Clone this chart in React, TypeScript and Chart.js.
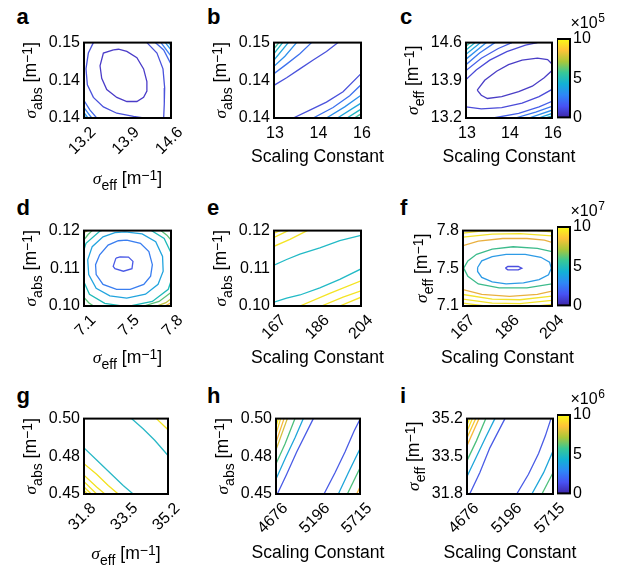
import React, { useEffect, useRef } from 'react';
import { Chart, registerables } from 'chart.js';

Chart.register(...registerables);

const SANS = "'Liberation Sans', Arial, Helvetica, sans-serif";
const SERIF = "'Liberation Serif', 'Times New Roman', serif";

type XY = [number, number];

// ---------------- Panel a (sigma_eff vs sigma_abs) ----------------
const aXTicks = [13.2, 13.9, 14.6];
const aXLabels = ['13.2', '13.9', '14.6'];
const aYTicks = [0.135, 0.1425, 0.15];
const aYLabels = ['0.14', '0.14', '0.15'];
const aL1: XY[] = [[13.674,0.14855],[13.512,0.14792],[13.458,0.1454],[13.485,0.14288],[13.566,0.14067],[13.728,0.1391],[13.889,0.13828],[14.051,0.13828],[14.159,0.1391],[14.212,0.14036],[14.212,0.14225],[14.159,0.14477],[14.051,0.14698],[13.889,0.14824],[13.755,0.14868],[13.674,0.14855]];
const aL2a: XY[] = [[13.351,0.15],[13.27,0.14792],[13.232,0.14477],[13.254,0.14162],[13.351,0.1391],[13.512,0.13721],[13.728,0.13595],[13.997,0.13532],[14.159,0.135]];
const aL2b: XY[] = [[14.212,0.15],[14.374,0.14792],[14.471,0.14477],[14.498,0.14099],[14.492,0.13784],[14.482,0.135]];
const aL3a: XY[] = [[14.347,0.15],[14.482,0.14855],[14.6,0.14572]];
const aL4a: XY[] = [[14.439,0.15],[14.6,0.14729]];
const aL5a: XY[] = [[14.509,0.15],[14.6,0.14855]];
const aL6a: XY[] = [[14.562,0.15],[14.6,0.14937]];
const aL3b: XY[] = [[13.2,0.13847],[13.297,0.13658],[13.405,0.135]];
const aL4b: XY[] = [[13.2,0.13708],[13.324,0.135]];
const aL5b: XY[] = [[13.2,0.13607],[13.265,0.135]];
const aL6b: XY[] = [[13.2,0.13544],[13.232,0.135]];

// ---------------- Panel b (scaling constant vs sigma_abs) ----------------
const bXTicks = [13.2, 14.4, 15.6];
const bXLabels = ['13', '14', '16'];
const bYTicks = [0.135, 0.1425, 0.15];
const bYLabels = ['0.14', '0.14', '0.15'];
const bL1a: XY[] = [[13.2,0.14149],[13.548,0.143],[13.914,0.14477],[14.281,0.14653],[14.647,0.14824],[14.968,0.15]];
const bL2a: XY[] = [[13.2,0.14382],[13.548,0.14572],[13.914,0.1478],[14.235,0.15]];
const bL3a: XY[] = [[13.2,0.14527],[13.502,0.14729],[13.823,0.15]];
const bL4a: XY[] = [[13.2,0.14653],[13.594,0.15]];
const bL5a: XY[] = [[13.2,0.1478],[13.438,0.15]];
const bL6a: XY[] = [[13.2,0.1488],[13.337,0.15]];
const bL1b: XY[] = [[13.731,0.135],[14.189,0.13658],[14.647,0.13815],[15.105,0.14023],[15.6,0.14382]];
const bL2b: XY[] = [[14.281,0.135],[14.83,0.13708],[15.288,0.13941],[15.6,0.14162]];
const bL3b: XY[] = [[14.647,0.135],[15.151,0.13721],[15.6,0.13954]];
const bL4b: XY[] = [[14.95,0.135],[15.6,0.13796]];
const bL5b: XY[] = [[15.215,0.135],[15.6,0.13676]];
const bL6b: XY[] = [[15.417,0.135],[15.6,0.13582]];

// ---------------- Panel c (scaling constant vs sigma_eff) ----------------
const cXTicks = [13.2, 14.4, 15.6];
const cXLabels = ['13', '14', '16'];
const cYTicks = [13.2, 13.9, 14.6];
const cYLabels = ['13.2', '13.9', '14.6'];
const cL1: XY[] = [[13.513,13.719],[13.722,13.9],[14.054,14.069],[14.386,14.19],[14.765,14.274],[15.192,14.31],[15.477,14.286],[15.6,14.202],[15.6,14.081],[15.382,13.948],[15.05,13.791],[14.67,13.689],[14.196,13.598],[13.798,13.562],[13.627,13.622],[13.513,13.719]];
const cL2a: XY[] = [[13.2,13.912],[13.485,14.093],[13.864,14.274],[14.338,14.431],[14.86,14.552],[15.192,14.6]];
const cL2b: XY[] = [[13.2,13.405],[13.627,13.369],[14.196,13.393],[14.765,13.478],[15.239,13.598],[15.6,13.731]];
const cL3a: XY[] = [[13.2,14.081],[13.627,14.31],[14.101,14.491],[14.481,14.6]];
const cL3b: XY[] = [[13.959,13.2],[14.67,13.284],[15.239,13.405],[15.6,13.508]];
const cL4a: XY[] = [[13.2,14.19],[13.579,14.407],[14.006,14.6]];
const cL4b: XY[] = [[14.575,13.2],[15.145,13.309],[15.6,13.417]];
const cL5a: XY[] = [[13.2,14.292],[13.769,14.6]];
const cL5b: XY[] = [[14.955,13.2],[15.6,13.345]];
const cL6a: XY[] = [[13.2,14.383],[13.608,14.6]];
const cL6b: XY[] = [[15.221,13.2],[15.6,13.284]];
const cL7a: XY[] = [[13.2,14.461],[13.456,14.6]];
const cL7b: XY[] = [[15.41,13.2],[15.6,13.236]];
const cL8a: XY[] = [[13.2,14.533],[13.323,14.6]];

// ---------------- Panel d ----------------
const dXTicks = [7.1, 7.45, 7.8];
const dXLabels = ['7.1', '7.5', '7.8'];
const dYTicks = [0.1, 0.11, 0.12];
const dYLabels = ['0.10', '0.11', '0.12'];
const dL1: XY[] = [[7.357,0.1127],[7.39,0.11304],[7.458,0.11296],[7.494,0.11183],[7.486,0.10991],[7.417,0.10922],[7.349,0.10991],[7.335,0.11052],[7.357,0.1127]];
const dL2: XY[] = [[7.444,0.11748],[7.554,0.11661],[7.622,0.11444],[7.65,0.11096],[7.636,0.10791],[7.581,0.10574],[7.472,0.10443],[7.362,0.10443],[7.253,0.10574],[7.198,0.10835],[7.193,0.11096],[7.226,0.11357],[7.294,0.11617],[7.376,0.11731],[7.444,0.11748]];
const dL3: XY[] = [[7.431,0.11965],[7.568,0.11913],[7.677,0.11704],[7.732,0.11313],[7.737,0.10922],[7.696,0.10574],[7.595,0.10313],[7.444,0.10209],[7.308,0.1027],[7.198,0.1047],[7.138,0.10835],[7.13,0.11226],[7.166,0.11574],[7.253,0.11835],[7.349,0.11948],[7.431,0.11965]];
const dL4: XY[] = [[7.431,0.12122],[7.609,0.1207],[7.745,0.11791],[7.814,0.11313],[7.822,0.10878],[7.778,0.10443],[7.65,0.10122],[7.444,0.09983],[7.267,0.1007],[7.144,0.10313],[7.084,0.10748],[7.075,0.11226],[7.116,0.11661],[7.226,0.11983],[7.335,0.12096],[7.431,0.12122]];
const dL5a: XY[] = [[7.1,0.11757],[7.133,0.11896],[7.166,0.12]];
const dL5b: XY[] = [[7.718,0.12],[7.767,0.11878],[7.8,0.11748]];
const dL5c: XY[] = [[7.1,0.10226],[7.138,0.10087],[7.177,0.1]];
const dL5d: XY[] = [[7.581,0.1],[7.704,0.10122],[7.8,0.10357]];
const dL6a: XY[] = [[7.685,0.1],[7.759,0.10087],[7.8,0.10191]];
const dL6b: XY[] = [[7.1,0.11948],[7.127,0.12]];
const dL7a: XY[] = [[7.751,0.1],[7.8,0.10087]];

// ---------------- Panel e ----------------
const eXTicks = [167, 185.5, 204];
const eXLabels = ['167', '186', '204'];
const eYTicks = [0.1, 0.11, 0.12];
const eYLabels = ['0.10', '0.11', '0.12'];
const eC1: XY[] = [[167,0.11083],[172.37,0.11233],[178.02,0.11375],[186.49,0.11542],[194.96,0.11733],[204,0.11875]];
const eC2: XY[] = [[167,0.101],[172.37,0.10208],[178.02,0.10292],[186.49,0.10483],[194.96,0.10708],[204,0.10983]];
const eY1: XY[] = [[167,0.11583],[173.78,0.11767],[181.12,0.12]];
const eY2: XY[] = [[167,0.11817],[173.07,0.12]];
const eY3: XY[] = [[167,0.11933],[169.54,0.12]];
const eY4: XY[] = [[178.02,0.1],[190.72,0.10333],[204,0.10667]];
const eY5: XY[] = [[187.19,0.1],[196.37,0.10233],[204,0.104]];
const eY6: XY[] = [[194.96,0.1],[204,0.10233]];

// ---------------- Panel f ----------------
const fXTicks = [167, 185.5, 204];
const fXLabels = ['167', '186', '204'];
const fYTicks = [7.1, 7.45, 7.8];
const fYLabels = ['7.1', '7.5', '7.8'];
const fL1: XY[] = [[184.63,7.4515],[185.64,7.4668],[189.98,7.4668],[191.43,7.4515],[189.98,7.4362],[185.64,7.4362],[184.63,7.4515]];
const fL2: XY[] = [[173.07,7.4576],[174.8,7.5188],[179.14,7.5585],[184.92,7.5799],[192.87,7.5799],[199.37,7.5524],[202.99,7.5066],[203.71,7.4515],[202.55,7.3904],[198.65,7.3445],[192.15,7.314],[184.92,7.3048],[179.14,7.3231],[174.8,7.3659],[173.07,7.421],[173.07,7.4576]];
const fL3: XY[] = [[204,7.6044],[197.93,7.6349],[187.81,7.6502],[179.14,7.6288],[172.64,7.5799],[169.02,7.5188],[167.29,7.4515],[169.02,7.3751],[173.36,7.3048],[182.03,7.2681],[193.59,7.2681],[204,7.3048]];
const fL4a: XY[] = [[167,7.6594],[173.36,7.7022],[183.48,7.7266],[193.59,7.7266],[200.82,7.7114],[204,7.69]];
const fL4b: XY[] = [[167,7.2528],[174.8,7.207],[186.37,7.1886],[197.93,7.207],[204,7.2376]];
const fL5a: XY[] = [[167,7.7389],[179.14,7.7664],[190.7,7.7725],[204,7.7511]];
const fL5b: XY[] = [[167,7.207],[179.14,7.1642],[190.7,7.1581],[204,7.1917]];
const fL6a: XY[] = [[167,7.7756],[173.36,7.7939],[177.7,7.8]];
const fL6b: XY[] = [[197.93,7.8],[204,7.7878]];
const fL6c: XY[] = [[167,7.1642],[179.14,7.1275],[190.7,7.1214],[204,7.152]];
const fL7a: XY[] = [[167,7.1275],[176.25,7.1]];
const fL7b: XY[] = [[197.93,7.1],[204,7.1153]];

// ---------------- Panel g ----------------
const gXTicks = [31.8, 33.5, 35.2];
const gXLabels = ['31.8', '33.5', '35.2'];
const gYTicks = [0.45, 0.475, 0.5];
const gYLabels = ['0.45', '0.48', '0.50'];
const gC1: XY[] = [[33.722,0.5],[34.192,0.49325],[34.662,0.48565],[34.998,0.47932],[35.2,0.47553]];
const gC2: XY[] = [[31.8,0.48059],[32.311,0.47257],[32.848,0.46413],[33.386,0.4557],[33.789,0.45]];
const gY0: XY[] = [[34.73,0.5],[35.2,0.49262]];
const gY1: XY[] = [[31.8,0.47004],[32.311,0.46308],[32.781,0.4557],[33.184,0.45]];
const gY2: XY[] = [[31.8,0.46245],[32.311,0.45464],[32.647,0.45]];
const gY3: XY[] = [[31.8,0.45823],[32.311,0.45]];
const gY4: XY[] = [[31.8,0.45464],[32.096,0.45]];
const gY5: XY[] = [[31.8,0.45232],[31.948,0.45]];

// ---------------- Panel h ----------------
const hXTicks = [4676, 5195.5, 5715];
const hXLabels = ['4676', '5196', '5715'];
const hYTicks = [0.45, 0.475, 0.5];
const hYLabels = ['0.45', '0.48', '0.50'];
const hL1: XY[] = [[4692.5,0.45],[4807.9,0.46308],[4931.6,0.47785],[5137.8,0.5]];
const hL2: XY[] = [[4676,0.45992],[4799.7,0.47468],[4911,0.48734],[5014.1,0.5]];
const hL3: XY[] = [[4676,0.47004],[4787.3,0.48312],[4911,0.5]];
const hL4: XY[] = [[4676,0.47932],[4816.2,0.5]];
const hL5: XY[] = [[4676,0.48418],[4775,0.5]];
const hL6: XY[] = [[4676,0.48987],[4733.7,0.5]];
const hL7: XY[] = [[4676,0.49473],[4704.9,0.5]];
const hR1: XY[] = [[5269.7,0.45],[5405.8,0.46413],[5529.5,0.47785],[5640.8,0.49156],[5715,0.49958]];
const hR2: XY[] = [[5447,0.45],[5570.7,0.46413],[5715,0.47996]];
const hR3: XY[] = [[5558.3,0.45],[5715,0.4673]];
const hR4: XY[] = [[5673.8,0.45],[5715,0.45464]];

// ---------------- Panel i ----------------
const iXTicks = [4676, 5195.5, 5715];
const iXLabels = ['4676', '5196', '5715'];
const iYTicks = [31.8, 33.5, 35.2];
const iYLabels = ['31.8', '33.5', '35.2'];
const iL1: XY[] = [[4708.5,31.8],[4830.2,32.761],[4952,33.88],[5134.6,35.2]];
const iL2: XY[] = [[4676,32.589],[4789.6,33.478],[4903.3,34.368],[5012.9,35.2]];
const iL3: XY[] = [[4676,33.306],[4789.6,34.196],[4903.3,35.2]];
const iL4: XY[] = [[4676,33.981],[4822.1,35.2]];
const iL5: XY[] = [[4676,34.339],[4781.5,35.2]];
const iL6: XY[] = [[4676,34.626],[4740.9,35.2]];
const iL7: XY[] = [[4676,34.913],[4708.5,35.2]];
const iR1: XY[] = [[5276.7,31.8],[5418.7,32.689],[5540.5,33.622],[5621.7,34.411],[5690.7,35.2]];
const iR2: XY[] = [[5459.3,31.8],[5601.4,32.761],[5715,33.737]];
const iR3: XY[] = [[5581.1,31.8],[5715,32.761]];

// ---------------- Colour bars ----------------
const cbTicks = [0, 5, 10];
const cbRange: [number, number] = [0, 10];
const cbExponents = ['5', '7', '6'];

// parula colour map stops
const PARULA: [number, string][] = [
  [0, '#3E26A8'], [1 / 7, '#4752F4'], [2 / 7, '#2E87F7'], [3 / 7, '#12B1D6'],
  [4 / 7, '#37C897'], [5 / 7, '#ABC739'], [6 / 7, '#FEC338'], [1, '#F9FB15'],
];

// ---------------- layout / style ----------------
const Y_W = 80;
const PAD_T = 10;
const PAD_R = 46;
const X_H = 84;
const TICK_FONT = 16;
const LINE_W = 1.3;

type Part = { t: string; font: string; dy: number };
const T_FONT = `17.6px ${SANS}`;
const SUB_FONT = `14px ${SANS}`;
const SIG_FONT = `italic 17.6px ${SERIF}`;
const sigmaTitle = (sub: string): Part[] => [
  { t: 'σ', font: SIG_FONT, dy: 0 },
  { t: sub, font: SUB_FONT, dy: 6 },
  { t: ' [m', font: T_FONT, dy: 0 },
  { t: '−1', font: SUB_FONT, dy: -4 },
  { t: ']', font: T_FONT, dy: 0 },
];
const scalingTitle: Part[] = [{ t: 'Scaling Constant', font: T_FONT, dy: 0 }];

interface Line { pts: XY[]; color: string }
interface Panel {
  letter: string;
  box: [number, number, number, number];
  xr: [number, number];
  yr: [number, number];
  xTicks: number[]; xLabels: string[];
  yTicks: number[]; yLabels: string[];
  rotate: boolean;
  xTitle: Part[]; yTitle: Part[];
  xOff: number; yOff: number;
  lines: Line[];
}

const panels: Panel[] = [
  {
    letter: 'a', box: [84, 39, 171, 118], xr: [13.2, 14.6], yr: [0.135, 0.15],
    xTicks: aXTicks, xLabels: aXLabels, yTicks: aYTicks, yLabels: aYLabels, rotate: true,
    xTitle: sigmaTitle('eff'), yTitle: sigmaTitle('abs'), xOff: 65.5, yOff: 48,
    lines: [
      { pts: aL1, color: '#4B3CC8' }, { pts: aL2a, color: '#4A52DC' }, { pts: aL2b, color: '#4A52DC' },
      { pts: aL3a, color: '#4468EA' }, { pts: aL3b, color: '#4468EA' },
      { pts: aL4a, color: '#3A80F0' }, { pts: aL4b, color: '#3A80F0' },
      { pts: aL5a, color: '#2E96EA' }, { pts: aL5b, color: '#2E96EA' },
      { pts: aL6a, color: '#26A8DE' }, { pts: aL6b, color: '#26A8DE' },
    ],
  },
  {
    letter: 'b', box: [274, 39, 361, 118], xr: [13.2, 15.6], yr: [0.135, 0.15],
    xTicks: bXTicks, xLabels: bXLabels, yTicks: bYTicks, yLabels: bYLabels, rotate: false,
    xTitle: scalingTitle, yTitle: sigmaTitle('abs'), xOff: 43.5, yOff: 48,
    lines: [
      { pts: bL1a, color: '#4A52DC' }, { pts: bL1b, color: '#4A52DC' },
      { pts: bL2a, color: '#3E72EE' }, { pts: bL2b, color: '#3E72EE' },
      { pts: bL3a, color: '#2E90EC' }, { pts: bL3b, color: '#2E90EC' },
      { pts: bL4a, color: '#1FA6DC' }, { pts: bL4b, color: '#1FA6DC' },
      { pts: bL5a, color: '#1EB7C4' }, { pts: bL5b, color: '#1EB7C4' },
      { pts: bL6a, color: '#40BE9E' }, { pts: bL6b, color: '#40BE9E' },
    ],
  },
  {
    letter: 'c', box: [466, 39, 552, 118], xr: [13.2, 15.6], yr: [13.2, 14.6],
    xTicks: cXTicks, xLabels: cXLabels, yTicks: cYTicks, yLabels: cYLabels, rotate: false,
    xTitle: scalingTitle, yTitle: sigmaTitle('eff'), xOff: 43.5, yOff: 48,
    lines: [
      { pts: cL1, color: '#4A3EC6' },
      { pts: cL2a, color: '#4B4BD8' }, { pts: cL2b, color: '#4B4BD8' },
      { pts: cL3a, color: '#4760E8' }, { pts: cL3b, color: '#4760E8' },
      { pts: cL4a, color: '#3C78F0' }, { pts: cL4b, color: '#3C78F0' },
      { pts: cL5a, color: '#2F8FEC' }, { pts: cL5b, color: '#2F8FEC' },
      { pts: cL6a, color: '#22A5DE' }, { pts: cL6b, color: '#22A5DE' },
      { pts: cL7a, color: '#1DB4C8' }, { pts: cL7b, color: '#1DB4C8' },
      { pts: cL8a, color: '#35BDA6' },
    ],
  },
  {
    letter: 'd', box: [84, 227, 171, 306], xr: [7.1, 7.8], yr: [0.1, 0.12],
    xTicks: dXTicks, xLabels: dXLabels, yTicks: dYTicks, yLabels: dYLabels, rotate: true,
    xTitle: sigmaTitle('eff'), yTitle: sigmaTitle('abs'), xOff: 57, yOff: 48,
    lines: [
      { pts: dL1, color: '#4A5AE6' }, { pts: dL2, color: '#3A7EF0' }, { pts: dL3, color: '#22A4DE' },
      { pts: dL4, color: '#1FBAB8' },
      { pts: dL5a, color: '#5CC076' }, { pts: dL5b, color: '#5CC076' }, { pts: dL5c, color: '#5CC076' }, { pts: dL5d, color: '#5CC076' },
      { pts: dL6a, color: '#BFC23E' }, { pts: dL6b, color: '#BFC23E' },
      { pts: dL7a, color: '#F5B83A' },
    ],
  },
  {
    letter: 'e', box: [274, 227, 361, 306], xr: [167, 204], yr: [0.1, 0.12],
    xTicks: eXTicks, xLabels: eXLabels, yTicks: eYTicks, yLabels: eYLabels, rotate: true,
    xTitle: scalingTitle, yTitle: sigmaTitle('abs'), xOff: 56.5, yOff: 48,
    lines: [
      { pts: eC1, color: '#22BAC6' }, { pts: eC2, color: '#22BAC6' },
      { pts: eY1, color: '#F4E424' }, { pts: eY2, color: '#F4E424' }, { pts: eY3, color: '#F4E424' },
      { pts: eY4, color: '#F4E424' }, { pts: eY5, color: '#F4E424' }, { pts: eY6, color: '#F4E424' },
    ],
  },
  {
    letter: 'f', box: [463, 227, 552, 306], xr: [167, 204], yr: [7.1, 7.8],
    xTicks: fXTicks, xLabels: fXLabels, yTicks: fYTicks, yLabels: fYLabels, rotate: true,
    xTitle: scalingTitle, yTitle: sigmaTitle('eff'), xOff: 56.5, yOff: 36.5,
    lines: [
      { pts: fL1, color: '#4B4FE0' }, { pts: fL2, color: '#2E9BE6' }, { pts: fL3, color: '#3DBB8C' },
      { pts: fL4a, color: '#E9B040' }, { pts: fL4b, color: '#E9B040' },
      { pts: fL5a, color: '#F3E32A' }, { pts: fL5b, color: '#F3E32A' },
      { pts: fL6a, color: '#F3E32A' }, { pts: fL6b, color: '#F3E32A' }, { pts: fL6c, color: '#F3E32A' },
      { pts: fL7a, color: '#F3E32A' }, { pts: fL7b, color: '#F3E32A' },
    ],
  },
  {
    letter: 'g', box: [84, 415, 168, 494], xr: [31.8, 35.2], yr: [0.45, 0.5],
    xTicks: gXTicks, xLabels: gXLabels, yTicks: gYTicks, yLabels: gYLabels, rotate: true,
    xTitle: sigmaTitle('eff'), yTitle: sigmaTitle('abs'), xOff: 64.6, yOff: 48,
    lines: [
      { pts: gC1, color: '#2AB8C6' }, { pts: gC2, color: '#2AB8C6' },
      { pts: gY0, color: '#F2E21E' }, { pts: gY1, color: '#F2E21E' }, { pts: gY2, color: '#F2E21E' },
      { pts: gY3, color: '#F2E21E' }, { pts: gY4, color: '#F2E21E' }, { pts: gY5, color: '#F2E21E' },
    ],
  },
  {
    letter: 'h', box: [276, 415, 360, 494], xr: [4676, 5715], yr: [0.45, 0.5],
    xTicks: hXTicks, xLabels: hXLabels, yTicks: hYTicks, yLabels: hYLabels, rotate: true,
    xTitle: scalingTitle, yTitle: sigmaTitle('abs'), xOff: 64.3, yOff: 48,
    lines: [
      { pts: hL1, color: '#4A5CE6' }, { pts: hL2, color: '#1FA6DA' }, { pts: hL3, color: '#4CBF7C' },
      { pts: hL4, color: '#D6BE3C' }, { pts: hL5, color: '#F7B93A' }, { pts: hL6, color: '#F8D52C' }, { pts: hL7, color: '#F5EE22' },
      { pts: hR1, color: '#4A5CE6' }, { pts: hR2, color: '#1FA6DA' }, { pts: hR3, color: '#4CBF7C' }, { pts: hR4, color: '#F7B93A' },
    ],
  },
  {
    letter: 'i', box: [467, 415, 553, 494], xr: [4676, 5715], yr: [31.8, 35.2],
    xTicks: iXTicks, xLabels: iXLabels, yTicks: iYTicks, yLabels: iYLabels, rotate: true,
    xTitle: scalingTitle, yTitle: sigmaTitle('eff'), xOff: 63.7, yOff: 48,
    lines: [
      { pts: iL1, color: '#4A5CE6' }, { pts: iL2, color: '#1FA6DA' }, { pts: iL3, color: '#4CBF7C' },
      { pts: iL4, color: '#F7B93A' }, { pts: iL5, color: '#F8C830' }, { pts: iL6, color: '#F8DC2A' }, { pts: iL7, color: '#F5EE22' },
      { pts: iR1, color: '#4A5CE6' }, { pts: iR2, color: '#1FA6DA' }, { pts: iR3, color: '#4CBF7C' },
    ],
  },
];

const colorbars: { box: [number, number, number, number]; exp: string }[] = [
  { box: [557, 39, 570, 118], exp: cbExponents[0] },
  { box: [557, 227, 570, 306], exp: cbExponents[1] },
  { box: [557, 415, 570, 494], exp: cbExponents[2] },
];

const CB_W = 56;
const CB_PT = 34;
const CB_PB = 12;

function drawRich(ctx: CanvasRenderingContext2D, parts: Part[], cx: number, cy: number, rot: number) {
  ctx.save();
  ctx.translate(cx, cy);
  ctx.rotate(rot);
  ctx.textAlign = 'left';
  ctx.textBaseline = 'alphabetic';
  ctx.fillStyle = '#000';
  let total = 0;
  const ws = parts.map((p) => {
    ctx.font = p.font;
    const w = ctx.measureText(p.t).width;
    total += w;
    return w;
  });
  let x = -total / 2;
  parts.forEach((p, i) => {
    ctx.font = p.font;
    ctx.fillText(p.t, x, p.dy);
    x += ws[i];
  });
  ctx.restore();
}

function panelConfig(p: Panel): any {
  const deco = {
    id: 'deco',
    afterDraw(chart: any) {
      const { ctx, chartArea: a } = chart;
      ctx.save();
      ctx.strokeStyle = '#000';
      ctx.lineWidth = 2;
      ctx.strokeRect(a.left, a.top, a.right - a.left, a.bottom - a.top);
      ctx.restore();
      drawRich(ctx, p.xTitle, (a.left + a.right) / 2, a.bottom + p.xOff, 0);
      drawRich(ctx, p.yTitle, a.left - p.yOff, (a.top + a.bottom) / 2, -Math.PI / 2);
    },
  };
  const rot = p.rotate ? 45 : 0;
  return {
    type: 'scatter',
    data: {
      datasets: p.lines.map((l) => ({
        data: l.pts.map(([x, y]) => ({ x, y })),
        showLine: true,
        borderColor: l.color,
        borderWidth: LINE_W,
        pointRadius: 0,
        pointHoverRadius: 0,
        fill: false,
        tension: 0,
      })),
    },
    options: {
      animation: false,
      responsive: false,
      maintainAspectRatio: false,
      events: [],
      layout: { padding: { top: PAD_T, right: PAD_R, left: 0, bottom: 0 } },
      plugins: { legend: { display: false }, tooltip: { enabled: false } },
      scales: {
        x: {
          type: 'linear', min: p.xr[0], max: p.xr[1],
          grid: { display: false, drawTicks: false }, border: { display: false },
          afterBuildTicks: (s: any) => { s.ticks = p.xTicks.map((v) => ({ value: v })); },
          afterFit: (s: any) => { s.height = X_H; },
          ticks: {
            autoSkip: false, minRotation: rot, maxRotation: rot,
            padding: p.rotate ? 5 : 6, labelOffset: p.rotate ? 9.5 : 1,
            color: '#000', font: { size: TICK_FONT, family: SANS },
            callback: (_v: any, i: number) => p.xLabels[i],
          },
        },
        y: {
          type: 'linear', min: p.yr[0], max: p.yr[1],
          grid: { display: false, drawTicks: false }, border: { display: false },
          afterBuildTicks: (s: any) => { s.ticks = p.yTicks.map((v) => ({ value: v })); },
          afterFit: (s: any) => { s.width = Y_W; },
          ticks: {
            autoSkip: false, padding: 4,
            color: '#000', font: { size: TICK_FONT, family: SANS },
            callback: (_v: any, i: number) => p.yLabels[i],
          },
        },
      },
    },
    plugins: [deco],
  };
}

function colorbarConfig(exp: string): any {
  const deco = {
    id: 'cbdeco',
    afterDraw(chart: any) {
      const { ctx, chartArea: a } = chart;
      ctx.save();
      ctx.strokeStyle = '#000';
      ctx.lineWidth = 2;
      ctx.strokeRect(a.left, a.top, a.right - a.left, a.bottom - a.top);
      ctx.restore();
      ctx.save();
      ctx.fillStyle = '#000';
      ctx.textBaseline = 'alphabetic';
      ctx.textAlign = 'left';
      ctx.font = `${TICK_FONT}px ${SANS}`;
      const x0 = a.left + 13.5;
      const y0 = a.top - 10.7;
      ctx.fillText('×10', x0, y0);
      const w = ctx.measureText('×10').width;
      ctx.font = `12px ${SANS}`;
      ctx.fillText(exp, x0 + w + 0.5, y0 - 6.6);
      ctx.restore();
    },
  };
  return {
    type: 'bar',
    data: {
      labels: [''],
      datasets: [{
        data: [cbRange],
        borderWidth: 0,
        barPercentage: 1,
        categoryPercentage: 1,
        backgroundColor: (c: any) => {
          const area = c.chart.chartArea;
          if (!area) return '#888';
          const g = c.chart.ctx.createLinearGradient(0, area.bottom, 0, area.top);
          PARULA.forEach(([s, col]) => g.addColorStop(s, col));
          return g;
        },
      }],
    },
    options: {
      animation: false,
      responsive: false,
      maintainAspectRatio: false,
      events: [],
      layout: { padding: { top: CB_PT, bottom: CB_PB, left: 0, right: 0 } },
      plugins: { legend: { display: false }, tooltip: { enabled: false } },
      scales: {
        x: { display: false },
        y: {
          position: 'right', min: cbRange[0], max: cbRange[1],
          grid: { display: false, drawTicks: false }, border: { display: false },
          afterBuildTicks: (s: any) => { s.ticks = cbTicks.map((v) => ({ value: v })); },
          afterFit: (s: any) => { s.width = CB_W; },
          ticks: { padding: 3, color: '#000', font: { size: TICK_FONT, family: SANS } },
        },
      },
    },
    plugins: [deco],
  };
}

function PanelChart({ p }: { p: Panel }) {
  const ref = useRef<HTMLCanvasElement>(null);
  useEffect(() => {
    const chart = new Chart(ref.current as HTMLCanvasElement, panelConfig(p));
    return () => chart.destroy();
  }, []);
  const [L, T, R, B] = p.box;
  const w = R - L + Y_W + PAD_R;
  const h = B - T + PAD_T + X_H;
  return (
    <canvas
      ref={ref}
      width={w}
      height={h}
      style={{ position: 'absolute', left: L - Y_W, top: T - PAD_T, width: w, height: h }}
    />
  );
}

function ColorbarChart({ box, exp }: { box: [number, number, number, number]; exp: string }) {
  const ref = useRef<HTMLCanvasElement>(null);
  useEffect(() => {
    const chart = new Chart(ref.current as HTMLCanvasElement, colorbarConfig(exp));
    return () => chart.destroy();
  }, []);
  const [L, T, R, B] = box;
  const w = R - L + CB_W;
  const h = B - T + CB_PT + CB_PB;
  return (
    <canvas
      ref={ref}
      width={w}
      height={h}
      style={{ position: 'absolute', left: L, top: T - CB_PT, width: w, height: h }}
    />
  );
}

const letterPos: Record<string, [number, number]> = {
  a: [16.5, 25], b: [207, 25], c: [400, 25],
  d: [16.5, 216], e: [207, 216], f: [400, 216],
  g: [16.5, 404], h: [207, 404], i: [400, 404],
};

export default function App() {
  return (
    <div style={{ position: 'absolute', left: 0, top: 0, width: 621, height: 567, background: '#fff', overflow: 'hidden' }}>
      {panels.map((p) => {
        const [lx, by] = letterPos[p.letter];
        return (
          <div
            key={'l' + p.letter}
            style={{
              position: 'absolute', left: lx, top: by - 18.6, font: `bold 22px ${SANS}`,
              lineHeight: '22px', color: '#000',
            }}
          >
            {p.letter}
          </div>
        );
      })}
      {panels.map((p) => <PanelChart key={p.letter} p={p} />)}
      {colorbars.map((c, i) => <ColorbarChart key={'cb' + i} box={c.box} exp={c.exp} />)}
    </div>
  );
}
